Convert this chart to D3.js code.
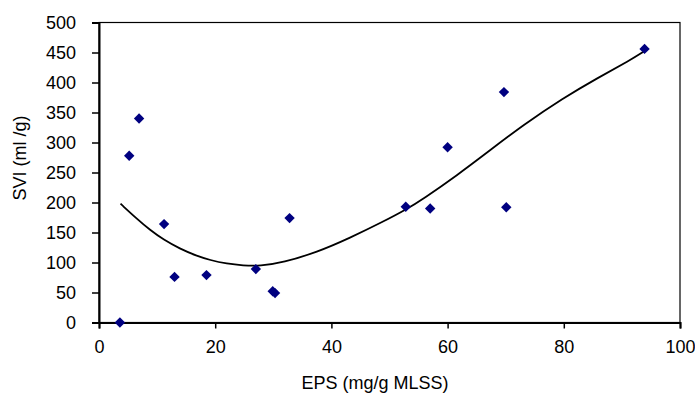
<!DOCTYPE html>
<html>
<head>
<meta charset="utf-8">
<script src="https://cdn.jsdelivr.net/npm/d3@7"></script>
<style>
  body { margin: 0; background: #fff; }
  svg { display: block; font-family: "Liberation Sans", Arial, sans-serif; }
</style>
</head>
<body>
<div id="chart"></div>
<script>
// measured points (EPS, SVI)
const epsValues = [3.6, 5.2, 6.9, 11.2, 13.0, 18.5, 27.0, 29.9, 30.3, 32.8, 52.8, 57.0, 60.0, 69.7, 70.1, 93.9];
const sviValues = [0, 278, 340, 164, 76, 79, 89, 52, 49, 174, 193, 190, 292, 384, 192, 456];

// trendline
const trendX = [3.7, 6.5, 8.8, 11.1, 13.9, 16.8, 19.1, 22.0, 24.8, 27.7, 31.7, 37.5, 43.2, 48.9, 53.0, 55.8, 61.6, 67.3, 73.0, 79.9, 85.7, 91.4, 94.0];
const trendY = [198, 173, 154, 138, 123, 111, 104, 98, 95, 94, 100, 117, 141, 168, 189, 206, 245, 287, 329, 374, 407, 437, 453];

const xTicks = [0, 20, 40, 60, 80, 100];
const yTicks = [0, 50, 100, 150, 200, 250, 300, 350, 400, 450, 500];

const width = 695, height = 395;
const margin = { top: 22.5, right: 15, bottom: 72.5, left: 99 };
const innerW = width - margin.left - margin.right;
const innerH = height - margin.top - margin.bottom;

const svg = d3.select("#chart").append("svg")
    .attr("width", width)
    .attr("height", height);

const g = svg.append("g")
    .attr("transform", `translate(${margin.left},${margin.top})`);

const x = d3.scaleLinear().domain([0, 100]).range([0, innerW]);
const y = d3.scaleLinear().domain([0, 500]).range([innerH, 0]);

// plot frame
g.append("rect")
    .attr("width", innerW)
    .attr("height", innerH)
    .attr("fill", "none")
    .attr("stroke", "#000")
    .attr("stroke-width", 1.2);

const xAxis = g.append("g")
    .attr("transform", `translate(0,${innerH})`)
    .call(d3.axisBottom(x).tickValues(xTicks).tickSize(6).tickPadding(12));

const yAxis = g.append("g")
    .call(d3.axisLeft(y).tickValues(yTicks).tickSize(7).tickPadding(16));

[xAxis, yAxis].forEach(ax => {
    ax.select(".domain").attr("stroke", "#000").attr("stroke-width", 2);
    ax.selectAll(".tick line").attr("stroke", "#000").attr("stroke-width", 1.5);
    ax.selectAll(".tick text")
        .attr("fill", "#000")
        .style("font-size", "18px")
        .style("font-family", "'Liberation Sans', Arial, sans-serif");
});

// trendline
const trend = trendX.map((d, i) => [d, trendY[i]]);
const line = d3.line()
    .x(d => x(d[0]))
    .y(d => y(d[1]))
    .curve(d3.curveBasis);

g.append("path")
    .datum(trend)
    .attr("d", line)
    .attr("fill", "none")
    .attr("stroke", "#000")
    .attr("stroke-width", 1.8);

// diamond markers
const diamond = d3.symbol().type(d3.symbolSquare).size(54);
g.selectAll(".pt")
    .data(epsValues.map((d, i) => [d, sviValues[i]]))
    .enter()
    .append("path")
    .attr("class", "pt")
    .attr("d", diamond)
    .attr("transform", d => `translate(${x(d[0])},${y(d[1])}) rotate(45)`)
    .attr("fill", "#000080");

// axis titles
svg.append("text")
    .attr("x", 375)
    .attr("y", 389)
    .attr("text-anchor", "middle")
    .style("font-size", "18px")
    .text("EPS (mg/g MLSS)");

svg.append("text")
    .attr("transform", "translate(26,158) rotate(-90)")
    .attr("text-anchor", "middle")
    .style("font-size", "18px")
    .text("SVI (ml /g)");
</script>
</body>
</html>
